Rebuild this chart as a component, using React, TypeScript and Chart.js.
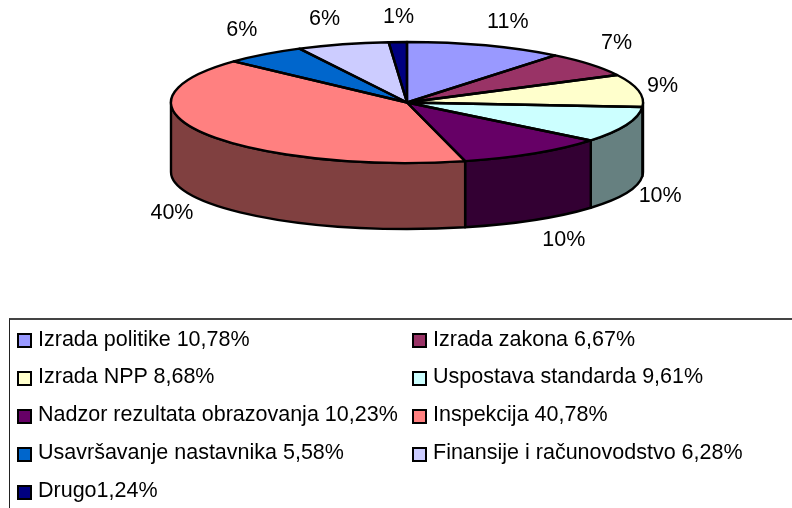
import React, { useEffect, useRef } from "react";
import { Chart, registerables } from "chart.js";

Chart.register(...registerables);

const legendLabels = [
  "Izrada politike 10,78%",
  "Izrada zakona 6,67%",
  "Izrada NPP 8,68%",
  "Uspostava standarda 9,61%",
  "Nadzor rezultata obrazovanja 10,23%",
  "Inspekcija 40,78%",
  "Usavršavanje nastavnika 5,58%",
  "Finansije i računovodstvo 6,28%",
  "Drugo1,24%",
];
const values = [10.78, 6.67, 8.68, 9.61, 10.23, 40.78, 5.58, 6.28, 1.24];
const percentLabels = ["11%", "7%", "9%", "10%", "10%", "40%", "6%", "6%", "1%"];
const colors = ["#9999FF", "#993366", "#FFFFCC", "#CCFFFF", "#660066", "#FF8080", "#0066CC", "#CCCCFF", "#000080"];

const FONT = "'Liberation Sans', Arial, sans-serif";
const CENTER_Y = 102.5;
const RADIUS_Y = 60.5;
const BOTTOM_Y = 172;
const BOTTOM_RY = 57;
const DEPTH = 67;
const LABEL_RX = 270;
const LABEL_RY = 90;
const labelNudges: [number, number][] = [
  [11, 4], [0, -3], [-9, 1], [2, -6], [11, -5], [-3, -2], [-2, -1], [-9, 3], [2, 5],
];

const halve = (hex: string) => {
  const n = parseInt(hex.slice(1), 16);
  const c = (v: number) => Math.round(v / 2);
  return `rgb(${c((n >> 16) & 255)},${c((n >> 8) & 255)},${c(n & 255)})`;
};

const pie3d = {
  id: "pie3d",
  beforeDatasetsDraw(chart: any) {
    const ctx = chart.ctx;
    const arcs = chart.getDatasetMeta(0).data;
    ctx.save();
    ctx.lineWidth = 2.4;
    ctx.strokeStyle = "#000";
    ctx.lineJoin = "round";
    // Only the part of each slice that faces the viewer has a visible wall.
    arcs.forEach((arc: any, i: number) => {
      const twoPi = Math.PI * 2;
      const s = arc.startAngle;
      const e = arc.endAngle;
      for (const k of [0, twoPi, -twoPi]) {
        const a = Math.max(s + k, 0);
        const b = Math.min(e + k, Math.PI);
        if (b > a) {
          ctx.beginPath();
          ctx.ellipse(arc.x, CENTER_Y, arc.outerRadius, RADIUS_Y, 0, a, b);
          ctx.ellipse(arc.x, BOTTOM_Y, arc.outerRadius, BOTTOM_RY, 0, b, a, true);
          ctx.closePath();
          ctx.fillStyle = halve(colors[i]);
          ctx.fill();
          ctx.stroke();
        }
      }
    });
    ctx.restore();
  },
  beforeDatasetDraw(chart: any) {
    const ctx = chart.ctx;
    const arc = chart.getDatasetMeta(0).data[0];
    ctx.save();
    ctx.translate(arc.x, CENTER_Y);
    ctx.scale(1, RADIUS_Y / arc.outerRadius);
    ctx.translate(-arc.x, -arc.y);
  },
  afterDatasetDraw(chart: any) {
    chart.ctx.restore();
  },
  afterDatasetsDraw(chart: any) {
    const ctx = chart.ctx;
    const arcs = chart.getDatasetMeta(0).data;
    ctx.save();
    ctx.lineWidth = 2.4;
    ctx.strokeStyle = "#000";
    ctx.lineJoin = "round";
    arcs.forEach((arc: any) => {
      ctx.beginPath();
      ctx.moveTo(arc.x, CENTER_Y);
      ctx.ellipse(arc.x, CENTER_Y, arc.outerRadius, RADIUS_Y, 0, arc.startAngle, arc.endAngle);
      ctx.closePath();
      ctx.stroke();
    });
    ctx.fillStyle = "#000";
    ctx.font = `21.5px ${FONT}`;
    ctx.textAlign = "center";
    ctx.textBaseline = "middle";
    arcs.forEach((arc: any, i: number) => {
      const mid = (arc.startAngle + arc.endAngle) / 2;
      const cos = Math.cos(mid);
      const sin = Math.sin(mid);
      const x = arc.x + LABEL_RX * cos + labelNudges[i][0];
      const y = CENTER_Y + LABEL_RY * sin + (sin > 0 ? DEPTH : 0) + labelNudges[i][1];
      ctx.fillText(percentLabels[i], x, y);
    });
    ctx.restore();
  },
};

export default function App() {
  const ref = useRef<HTMLCanvasElement>(null);
  useEffect(() => {
    const chart = new Chart(ref.current!, {
      type: "pie",
      data: {
        labels: legendLabels,
        datasets: [{ data: values, backgroundColor: colors, borderWidth: 0, radius: 236 } as any],
      },
      options: {
        animation: false,
        responsive: false,
        rotation: 0,
        layout: { padding: { left: 22 } },
        plugins: { legend: { display: false }, tooltip: { enabled: false } },
      },
      plugins: [pie3d],
    } as any);
    return () => chart.destroy();
  }, []);

  return (
    <div style={{ position: "fixed", left: 0, top: 0, width: 792, height: 508, overflow: "hidden", background: "#fff" }}>
      <canvas ref={ref} width={792} height={508} style={{ position: "absolute", left: 0, top: 0, display: "block" }} />
      <div
        style={{
          position: "absolute", left: 9, top: 318, width: 800, height: 200,
          borderTop: "2px solid #444", borderLeft: "1px solid #222", boxSizing: "border-box",
          fontFamily: FONT, fontSize: 21.5, color: "#000",
        }}
      >
        {legendLabels.map((label, i) => (
          <div
            key={label}
            style={{
              position: "absolute",
              left: i % 2 === 0 ? 7 : 402,
              top: 0 + 37.9 * Math.floor(i / 2),
              height: 38, display: "flex", alignItems: "center", whiteSpace: "nowrap",
            }}
          >
            <span
              style={{
                width: 15, height: 15, boxSizing: "border-box", border: "2px solid #000",
                background: colors[i], marginRight: 6, marginTop: 3, display: "inline-block",
              }}
            />
            {label}
          </div>
        ))}
      </div>
    </div>
  );
}
